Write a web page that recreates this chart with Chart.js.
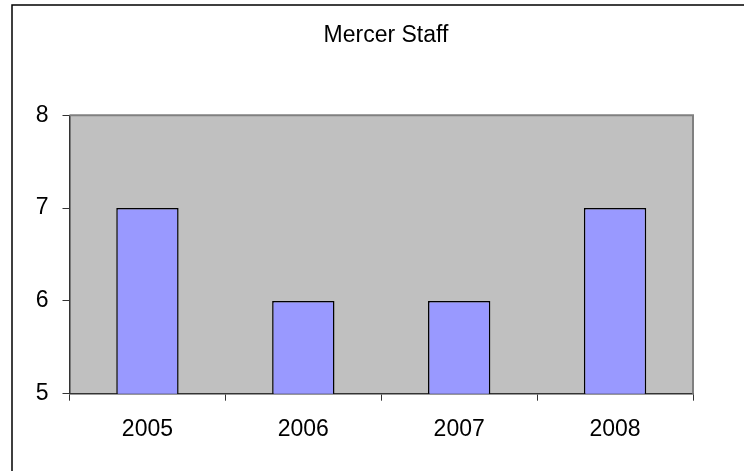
<!DOCTYPE html>
<html>
<head>
<meta charset="utf-8">
<script src="https://cdn.jsdelivr.net/npm/chart.js@4"></script>
<style>
  html, body { margin: 0; padding: 0; background: #fff; }
  #wrap { position: relative; width: 744px; height: 471px; }
</style>
</head>
<body>
<div id="wrap"><canvas id="chart" width="744" height="471"></canvas></div>
<script>
const years = ['2005', '2006', '2007', '2008']
const staff = [7, 6, 6, 7]
const yTicks = [5, 6, 7, 8]
const titleText = 'Mercer Staff'

const fontFamily = '"Liberation Sans", Arial, sans-serif'

// grey plot area, grey top/right frame, outer chart border, title
const frame = {
  id: 'frame',
  beforeDraw (chart) {
    const { ctx, chartArea: a } = chart
    ctx.save()
    ctx.fillStyle = '#C0C0C0'
    ctx.fillRect(a.left, a.top, a.right - a.left, a.bottom - a.top)
    ctx.strokeStyle = '#000'
    ctx.lineWidth = 1.5
    ctx.beginPath()
    ctx.moveTo(12, chart.height)
    ctx.lineTo(12, 5)
    ctx.lineTo(chart.width, 5)
    ctx.stroke()

    // the title sits centred on the whole chart box, which runs past the page edge
    ctx.fillStyle = '#000'
    ctx.font = '23px ' + fontFamily
    ctx.textAlign = 'center'
    ctx.textBaseline = 'middle'
    ctx.fillText(titleText, 386, 36)
    ctx.restore()
  },
  afterDatasetsDraw (chart) {
    const { ctx, chartArea: a } = chart
    ctx.save()
    ctx.strokeStyle = '#808080'
    ctx.lineWidth = 2
    ctx.beginPath()
    ctx.moveTo(a.left, a.top)
    ctx.lineTo(a.right, a.top)
    ctx.lineTo(a.right, a.bottom)
    ctx.stroke()
    ctx.restore()
  }
}

new Chart(document.getElementById('chart'), {
  type: 'bar',
  data: {
    labels: years,
    datasets: [{
      label: titleText,
      data: staff,
      backgroundColor: '#9999FF',
      borderColor: '#000',
      borderWidth: 1.5,
      categoryPercentage: 1,
      barPercentage: 0.4
    }]
  },
  options: {
    responsive: false,
    animation: false,
    layout: { padding: { left: 0, right: 51, top: 115.3, bottom: 0 } },
    plugins: {
      legend: { display: false },
      tooltip: { enabled: false },
      title: { display: false }
    },
    scales: {
      x: {
        afterFit: (s) => { s.height = 77.3 },
        grid: {
          offset: true,
          drawOnChartArea: false,
          tickLength: 7,
          color: '#333'
        },
        border: { color: '#333', width: 1.5 },
        ticks: {
          color: '#000',
          padding: 15,
          font: { family: fontFamily, size: 23 }
        }
      },
      y: {
        min: yTicks[0],
        max: yTicks[yTicks.length - 1],
        afterFit: (s) => { s.width = 69.5 },
        afterBuildTicks: (s) => { s.ticks = yTicks.map((v) => ({ value: v })) },
        grid: {
          drawOnChartArea: false,
          tickLength: 7,
          color: '#333'
        },
        border: { color: '#333', width: 1.5 },
        ticks: {
          color: '#000',
          padding: 14,
          font: { family: fontFamily, size: 23 }
        }
      }
    }
  },
  plugins: [frame]
})
</script>
</body>
</html>
